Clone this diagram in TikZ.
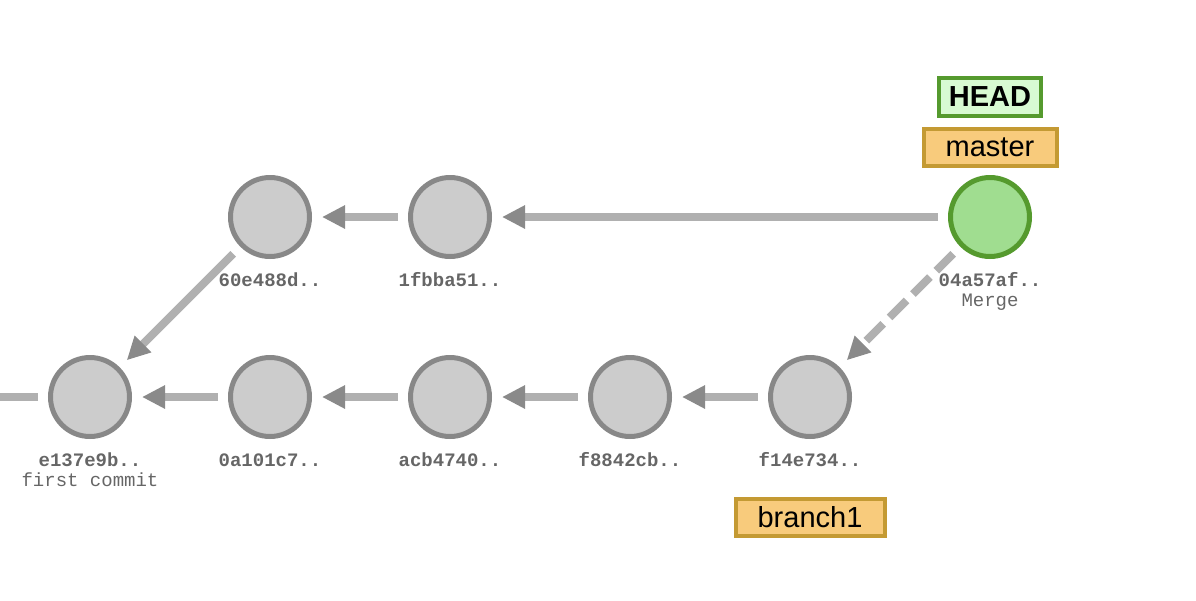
\documentclass[tikz,border=0pt]{standalone}
\usepackage{fontspec}
\setmainfont{Liberation Sans}
\newfontfamily\hashfont{Liberation Mono}
\usepackage{tikz}
\usetikzlibrary{arrows.meta}
\usetikzlibrary{positioning}

\definecolor{commitfill}{HTML}{CCCCCC}
\definecolor{commitline}{HTML}{888888}
\definecolor{mergefill}{HTML}{A0DD90}
\definecolor{mergeline}{HTML}{559A2E}
\definecolor{edgegray}{HTML}{B0B0B0}
\definecolor{tipgray}{HTML}{8A8A8A}
\definecolor{hashgray}{HTML}{666666}
\definecolor{branchfill}{HTML}{F8CB7C}
\definecolor{branchline}{HTML}{C49A33}
\definecolor{headfill}{HTML}{D8FAD2}

\begin{document}
\begin{tikzpicture}[x=1pt,y=-1pt,->,>={Triangle[length=23pt,width=22pt,color=tipgray]},
  shorten >=10pt,shorten <=10pt,node distance=180pt,on grid,
  commit/.style={circle,minimum size=79pt,inner sep=0pt,line width=5pt,draw=commitline,fill=commitfill},
  merge commit/.style={commit,draw=mergeline,fill=mergefill},
  parent/.style={draw=edgegray,line width=8pt},
  hash/.style={font=\hashfont\fontsize{19}{19}\selectfont\bfseries,text=hashgray,text height=12pt,text depth=4pt,inner sep=0pt},
  msg/.style={hash,font=\hashfont\fontsize{19}{19}\selectfont},
  branch/.style={draw=branchline,fill=branchfill,line width=4pt,minimum height=37pt,inner sep=0pt,font=\fontsize{29}{29}\selectfont},
  head/.style={branch,draw=mergeline,fill=headfill,minimum height=38pt,font=\fontsize{29}{29}\selectfont\bfseries}]

  \useasboundingbox (0,0) rectangle (1196,600);

  \node[commit] (e137e9b) at (90,397) {};
  \node[commit] (0a101c7) [right=of e137e9b] {};
  \node[commit] (acb4740) [right=of 0a101c7] {};
  \node[commit] (f8842cb) [right=of acb4740] {};
  \node[commit] (f14e734) [right=of f8842cb] {};
  \node[commit] (60e488d) [above=of 0a101c7] {};
  \node[commit] (1fbba51) [right=of 60e488d] {};
  \node[merge commit] (04a57af) [above right=180pt and 180pt of f14e734] {};

  \node[hash] (e137e9b a) [below=65.5pt of e137e9b] {e137e9b..};
  \node[msg]  (e137e9b b) [below=85pt of e137e9b] {first commit};
  \node[hash] (0a101c7 a) [below=65.5pt of 0a101c7] {0a101c7..};
  \node[hash] (acb4740 a) [below=65.5pt of acb4740] {acb4740..};
  \node[hash] (f8842cb a) [below=65.5pt of f8842cb] {f8842cb..};
  \node[hash] (f14e734 a) [below=65.5pt of f14e734] {f14e734..};
  \node[hash] (60e488d a) [below=65.5pt of 60e488d] {60e488d..};
  \node[hash] (1fbba51 a) [below=65.5pt of 1fbba51] {1fbba51..};
  \node[hash] (04a57af a) [below=65.5pt of 04a57af] {04a57af..};
  \node[msg]  (04a57af b) [below=85pt of 04a57af] {Merge};

  \node[branch,minimum width=133pt] (master) [above=69.5pt of 04a57af] {master};
  \node[head,minimum width=102pt] (HEAD) [above=120pt of 04a57af] {HEAD};
  \node[branch,minimum width=149pt] (branch1) [below=120.5pt of f14e734] {branch1};

  \path[parent]
    (0a101c7) edge (e137e9b)
    (acb4740) edge (0a101c7)
    (f8842cb) edge (acb4740)
    (f14e734) edge (f8842cb)
    (60e488d) edge (e137e9b)
    (1fbba51) edge (60e488d)
    (04a57af) edge (1fbba51)
    (04a57af) edge [dash pattern=on 24pt off 9pt] (f14e734);

  \coordinate (root) at (0,397);
  \path[parent] (e137e9b) edge [-,shorten >=0pt] (root);
\end{tikzpicture}
\end{document}
